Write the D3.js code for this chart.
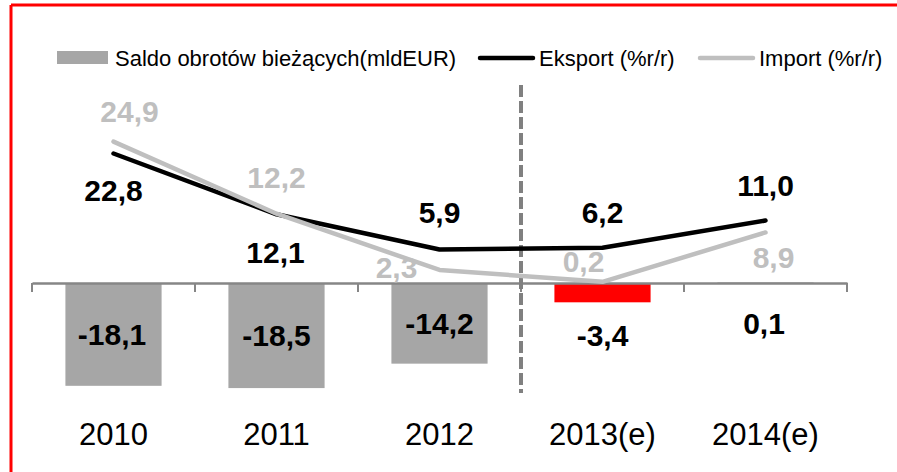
<!DOCTYPE html>
<html>
<head>
<meta charset="utf-8">
<script src="https://cdn.jsdelivr.net/npm/d3@7"></script>
<style>
  html, body { margin: 0; padding: 0; background: #fff; overflow: hidden; }
  svg { display: block; }
  text { font-family: "Liberation Sans", Arial, sans-serif; }
</style>
</head>
<body>
<svg id="chart" width="897" height="472"></svg>
<script>
// Data
const years = ["2010", "2011", "2012", "2013(e)", "2014(e)"];
const saldo = [-18.1, -18.5, -14.2, -3.4, 0.1];
const eksport = [22.8, 12.1, 5.9, 6.2, 11.0];
const imports = [24.9, 12.2, 2.3, 0.2, 8.9];
const seriesNames = ["Saldo obrotów bieżących(mldEUR)", "Eksport (%r/r)", "Import (%r/r)"];

// Label placement tweaks (dx, dy from the point, like the original chart)
const eksportLabelPos = [[0, 48], [-1, 49], [0, -26], [0, -25], [0, -25]];
const importLabelPos = [[16, -20], [0, -26], [-43, 8], [-19, -10], [8, 36]];
const saldoLabelPos = [[-1.5, 11], [0, 10], [0, 11], [0, 53], [-1.5, 51]];

const colors = {
    bar: "#a6a6a6",
    barHighlight: "#ff0000",
    eksport: "#000000",
    import: "#bfbfbf",
    axis: "#868686",
    divider: "#808080"
};

// Polish decimal comma, plain hyphen for negatives
const fmt = v => v.toFixed(1).replace(".", ",");

const svg = d3.select("#chart");

// red frame (only top and left edges are in view)
svg.append("line")
    .attr("x1", 11).attr("x2", 897)
    .attr("y1", 5).attr("y2", 5)
    .attr("stroke", "#ff0000")
    .attr("stroke-width", 3);
svg.append("line")
    .attr("x1", 11).attr("x2", 11)
    .attr("y1", 5).attr("y2", 472)
    .attr("stroke", "#ff0000")
    .attr("stroke-width", 3);

// Scales
const x = d3.scaleBand()
    .domain(years)
    .range([32, 847])
    .paddingInner(0)
    .paddingOuter(0);

const y = d3.scaleLinear()
    .domain([-20, 30])
    .range([396.6, 112.6]);

const cx = d => x(d) + x.bandwidth() / 2;
const barWidth = x.bandwidth() * 0.59;

// Bars
svg.append("g").selectAll("rect")
    .data(saldo)
    .enter().append("rect")
    .attr("x", (d, i) => cx(years[i]) - barWidth / 2)
    .attr("y", d => Math.min(y(d), y(0)))
    .attr("width", barWidth)
    .attr("height", d => Math.abs(y(d) - y(0)))
    .attr("fill", (d, i) => i === 3 ? colors.barHighlight : colors.bar);

// Category axis at zero
const axis = svg.append("g")
    .attr("transform", `translate(0, ${y(0)})`)
    .call(d3.axisBottom(x).tickSize(0).tickFormat(""));
axis.select(".domain").attr("stroke", colors.axis).attr("stroke-width", 2.5);
const tickPositions = [x.range()[0]].concat(years.map(d => x(d) + x.bandwidth()));
axis.selectAll(".sep")
    .data(tickPositions)
    .enter().append("line")
    .attr("class", "sep")
    .attr("x1", d => d).attr("x2", d => d)
    .attr("y1", 0).attr("y2", 9)
    .attr("stroke", colors.axis)
    .attr("stroke-width", 2);

// Year labels
svg.append("g").selectAll("text")
    .data(years)
    .enter().append("text")
    .attr("x", d => cx(d))
    .attr("y", 445)
    .attr("text-anchor", "middle")
    .style("font-size", "31px")
    .attr("fill", "#000")
    .text(d => d);

// Forecast divider
const divX = x(years[3]);
svg.append("line")
    .attr("x1", divX).attr("x2", divX)
    .attr("y1", 85).attr("y2", 393)
    .attr("stroke", colors.divider)
    .attr("stroke-width", 4)
    .attr("stroke-dasharray", "12,4");

// Lines
const line = d3.line()
    .x((d, i) => cx(years[i]))
    .y(d => y(d));

svg.append("path")
    .datum(eksport)
    .attr("d", line)
    .attr("fill", "none")
    .attr("stroke", colors.eksport)
    .attr("stroke-width", 4.5)
    .attr("stroke-linejoin", "round")
    .attr("stroke-linecap", "round");

svg.append("path")
    .datum(imports)
    .attr("d", line)
    .attr("fill", "none")
    .attr("stroke", colors.import)
    .attr("stroke-width", 4.5)
    .attr("stroke-linejoin", "round")
    .attr("stroke-linecap", "round");

// Data labels
function addLabels(values, pos, color, baseY) {
    svg.append("g").selectAll("text")
        .data(values)
        .enter().append("text")
        .attr("x", (d, i) => cx(years[i]) + pos[i][0])
        .attr("y", (d, i) => baseY(d) + pos[i][1])
        .attr("text-anchor", "middle")
        .style("font-size", "30px")
        .style("font-weight", "bold")
        .attr("fill", color)
        .text(d => fmt(d));
}
addLabels(eksport, eksportLabelPos, colors.eksport, d => y(d));
addLabels(imports, importLabelPos, colors.import, d => y(d));
addLabels(saldo, saldoLabelPos, "#000", d => (y(d) + y(0)) / 2);

// Legend
const legend = svg.append("g");
legend.append("rect")
    .attr("x", 57).attr("y", 51)
    .attr("width", 51).attr("height", 13)
    .attr("fill", colors.bar);
legend.append("line")
    .attr("x1", 480).attr("x2", 533)
    .attr("y1", 58).attr("y2", 58)
    .attr("stroke", colors.eksport)
    .attr("stroke-width", 4.5)
    .attr("stroke-linecap", "round");
legend.append("line")
    .attr("x1", 700).attr("x2", 753)
    .attr("y1", 58).attr("y2", 58)
    .attr("stroke", colors.import)
    .attr("stroke-width", 4.5)
    .attr("stroke-linecap", "round");
legend.selectAll("text.leg")
    .data(seriesNames)
    .enter().append("text")
    .attr("class", "leg")
    .attr("x", (d, i) => [115, 539, 759][i])
    .attr("y", 66)
    .style("font-size", "22px")
    .attr("fill", "#000")
    .text(d => d);
</script>
</body>
</html>
